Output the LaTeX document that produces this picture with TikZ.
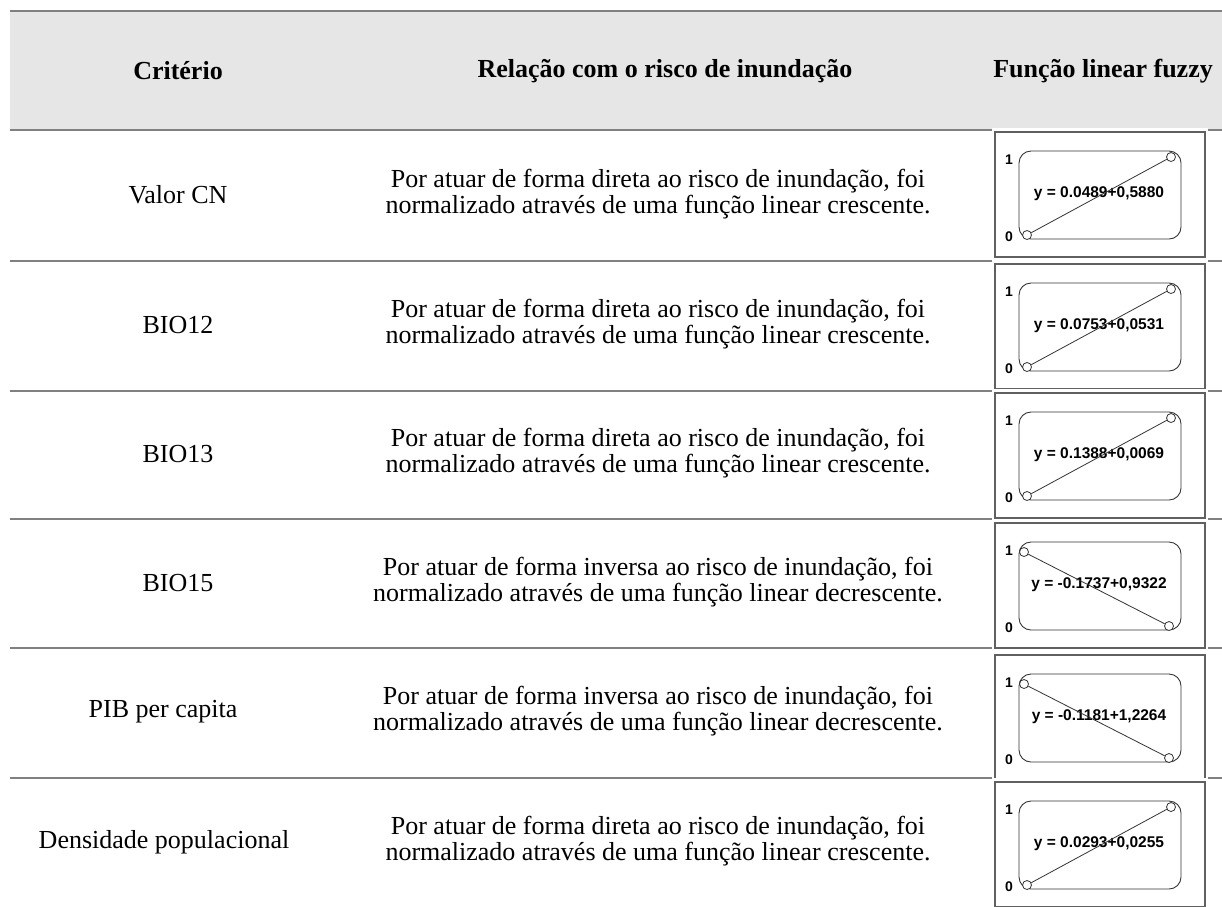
\documentclass[tikz,border=0pt]{standalone}
\usepackage{fontspec}
\setmainfont{Liberation Serif}
\newfontfamily\arialfont{Liberation Sans}
\definecolor{rulegray}{HTML}{808080}
\definecolor{headfill}{HTML}{E6E6E6}
\definecolor{boxgray}{HTML}{606060}
\definecolor{inkgray}{HTML}{333333}
\tikzset{
  headtext/.style={font=\fontsize{26}{30}\selectfont\bfseries, inner sep=0pt},
  celltext/.style={font=\fontsize{26}{26}\selectfont, align=center, inner sep=0pt},
  toprule/.style={draw=rulegray, line width=2pt},
  rowrule/.style={draw=rulegray, line width=1.6pt},
  chartbox/.style={draw=boxgray, line width=1.3pt, fill=white, minimum width=210pt, minimum height=125pt, inner sep=0pt},
  curvebox/.style={draw=inkgray, line width=0.9pt, rounded corners=12pt},
  axlab/.style={font=\arialfont\bfseries\fontsize{14}{16}\selectfont, inner sep=0pt},
  eqlab/.style={font=\arialfont\bfseries\fontsize{15.5}{18}\selectfont, inner sep=0pt},
  endpt/.style={circle, draw=inkgray, fill=white, line width=0.8pt, minimum size=9pt, inner sep=0pt},
  fuzzyline/.style={draw=inkgray, line width=0.8pt}
}
% #1 name, #2 top y, #3 first point, #4 second point, #5 equation
\newcommand{\fuzzychart}[5]{%
  \begin{scope}[shift={(995,#2)}]
    \fill[white] (-3,-4) rectangle (213,129);
    \node[chartbox] (#1box) at (105,62.5) {};
    \draw[curvebox] (24,19) rectangle (186,107);
    \node[axlab] (#1one) at (14,28) {1};
    \node[axlab] (#1zero) at (14,105) {0};
    \node[eqlab] (#1eq) at (104,62) {#5};
    \node[endpt] (#1a) at #3 {};
    \node[endpt] (#1b) at #4 {};
    \draw[fuzzyline] (#1a) -- (#1b);
  \end{scope}}
\begin{document}
\begin{tikzpicture}[x=1pt,y=-1pt]
\useasboundingbox (0,0) rectangle (1222,906);
\fill[white] (0,0) rectangle (1222,906);
% header
\fill[headfill] (10,11) rectangle (1222,130);
\draw[toprule] (10,11) -- (1222,11);
\draw[toprule] (10,130) -- (1222,130);
\node[headtext] (h1) at (178,71) {Critério};
\node[headtext] (h2) at (665,71) {Relação com o risco de inundação};
\node[headtext] (h3) at (1103,71) {Função linear fuzzy};
% row rules
\foreach \yy in {261,391,519,648,778}{
  \draw[rowrule] (10,\yy) -- (1222,\yy);
}
% column 1
\node[celltext] (c1) at (178,195) {Valor CN};
\node[celltext] (c2) at (178,325) {BIO12};
\node[celltext] (c3) at (178,454) {BIO13};
\node[celltext] (c4) at (178,583) {BIO15};
\node[celltext] (c5) at (163,712) {PIB per capita};
\node[celltext] (c6) at (164,842) {Densidade populacional};
% column 2
\node[celltext] (r1) at (658,194) {Por atuar de forma direta ao risco de inundação, foi\\normalizado através de uma função linear crescente.};
\node[celltext] (r2) at (658,324) {Por atuar de forma direta ao risco de inundação, foi\\normalizado através de uma função linear crescente.};
\node[celltext] (r3) at (658,453) {Por atuar de forma direta ao risco de inundação, foi\\normalizado através de uma função linear crescente.};
\node[celltext] (r4) at (658,582) {Por atuar de forma inversa ao risco de inundação, foi\\normalizado através de uma função linear decrescente.};
\node[celltext] (r5) at (658,711) {Por atuar de forma inversa ao risco de inundação, foi\\normalizado através de uma função linear decrescente.};
\node[celltext] (r6) at (658,841) {Por atuar de forma direta ao risco de inundação, foi\\normalizado através de uma função linear crescente.};
% column 3 charts
\fuzzychart{f1}{132}{(32,103)}{(176,25)}{y = 0.0489+0,5880}
\fuzzychart{f2}{264}{(32,103)}{(176,25)}{y = 0.0753+0,0531}
\fuzzychart{f3}{393}{(32,103)}{(176,25)}{y = 0.1388+0,0069}
\fuzzychart{f4}{523}{(29,29)}{(174,103)}{y = -0.1737+0,9322}
\fuzzychart{f5}{655}{(29,29)}{(174,103)}{y = -0.1181+1,2264}
\fuzzychart{f6}{782}{(32,103)}{(176,25)}{y = 0.0293+0,0255}
\end{tikzpicture}
\end{document}
